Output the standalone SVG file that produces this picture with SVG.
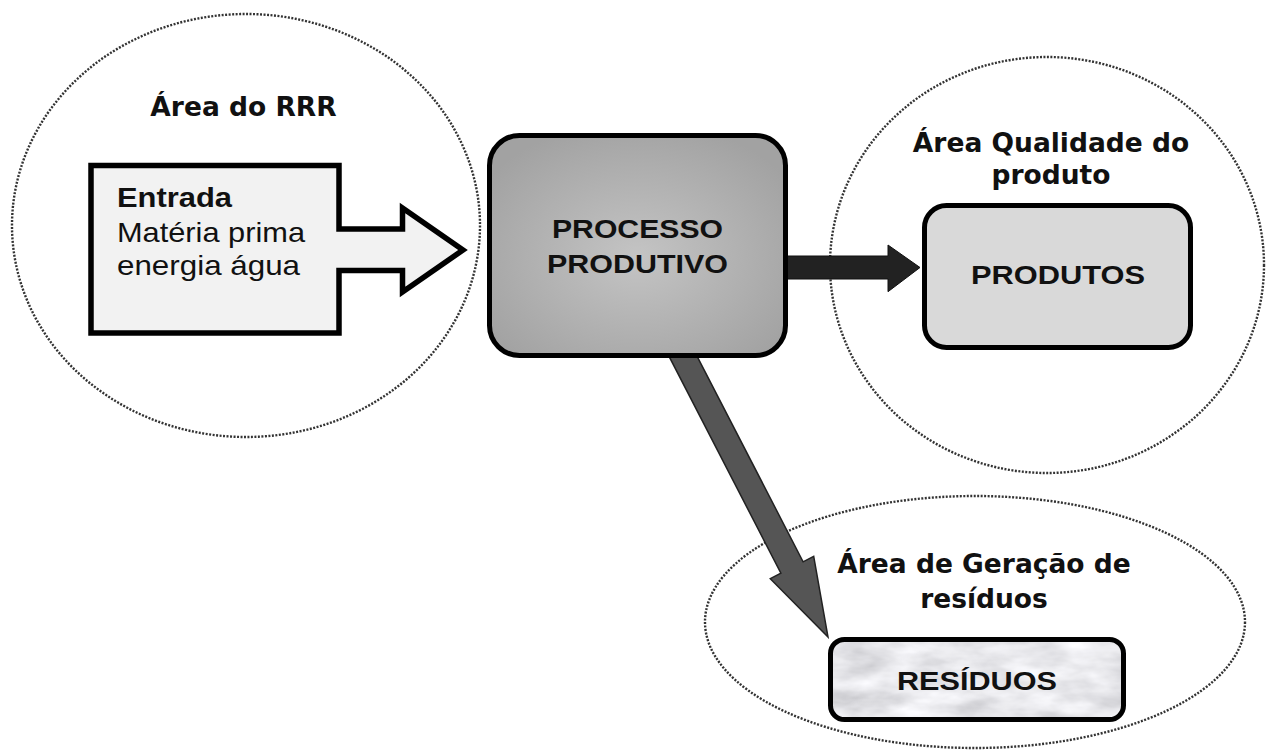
<svg xmlns="http://www.w3.org/2000/svg" width="1266" height="754" viewBox="0 0 1266 754">
<style>
.area{fill:none;stroke:#333;stroke-width:2.4;stroke-dasharray:2 1.5}
.ttl{font-family:"DejaVu Sans",sans-serif;font-weight:bold;font-size:26.5px;fill:#111;text-anchor:middle}
.lbl{font-family:"Liberation Sans",Arial,sans-serif;font-weight:bold;font-size:25.5px;fill:#111;text-anchor:middle}
.inp{font-family:"Liberation Sans",Arial,sans-serif;font-size:28px;fill:#111}
.box{stroke:#000;stroke-width:5}
</style>
<defs>
<radialGradient id="gProc" cx="50%" cy="55%" r="62%">
<stop offset="0" stop-color="#c4c4c4"/>
<stop offset="1" stop-color="#a2a2a2"/>
</radialGradient>
<filter id="marble" x="0" y="0" width="100%" height="100%">
<feTurbulence type="fractalNoise" baseFrequency="0.018 0.045" numOctaves="4" seed="7" result="n"/>
<feColorMatrix in="n" type="matrix" values="0.6 0 0 0 0.5  0.6 0 0 0 0.5  0.6 0 0 0 0.53  0 0 0 0 1" result="c"/>
<feComposite in="c" in2="SourceGraphic" operator="in"/>
</filter>
</defs>

<g id="area-rrr"><ellipse class="area" cx="246" cy="225.5" rx="234" ry="211.5"/><text class="ttl" x="243.5" y="116">Área do RRR</text></g>
<g id="area-qualidade"><ellipse class="area" cx="1047" cy="265" rx="217" ry="208"/><text class="ttl" x="1051" y="152">Área Qualidade do</text><text class="ttl" x="1051" y="184">produto</text></g>
<g id="area-residuos"><ellipse class="area" cx="975" cy="622" rx="270" ry="126"/><text class="ttl" x="984" y="573">Área de Geração de</text><text class="ttl" x="984" y="608">resíduos</text></g>

<g id="connectors">
<path d="M780,256 H888 V245 L920,267.5 L888,291.7 V279 H780 Z" fill="#222" stroke="#111" stroke-width="1"/>
<polygon points="680.6,324.3 803.1,561.8 813.7,556.3 828,637 770.3,578.7 780.9,573.2 658.4,335.7" fill="#555" stroke="#222" stroke-width="1.5" stroke-linejoin="miter"/>
</g>

<g id="entrada">
<path d="M91,165.5 H339 V229 H402.5 V208 L463,250 L402.5,292 V270.5 H339 V333 H91 Z" fill="#f2f2f2" stroke="#000" stroke-width="5.5" stroke-linejoin="miter"/>
<text class="inp" x="117" y="207" font-weight="bold" textLength="115" lengthAdjust="spacingAndGlyphs">Entrada</text>
<text class="inp" x="117" y="242" textLength="188" lengthAdjust="spacingAndGlyphs">Matéria prima</text>
<text class="inp" x="117" y="275" textLength="183" lengthAdjust="spacingAndGlyphs">energia água</text>
</g>

<g id="processo">
<rect class="box" x="489.5" y="135.5" width="296" height="220" rx="30" fill="url(#gProc)"/>
<text class="lbl" x="637.5" y="238" textLength="171" lengthAdjust="spacingAndGlyphs">PROCESSO</text>
<text class="lbl" x="637.5" y="273" textLength="181" lengthAdjust="spacingAndGlyphs">PRODUTIVO</text>
</g>

<g id="produtos">
<rect class="box" x="924.5" y="205.5" width="266" height="142" rx="22" fill="#d9d9d9"/>
<text class="lbl" x="1058" y="284" textLength="174" lengthAdjust="spacingAndGlyphs">PRODUTOS</text>
</g>

<g id="residuos">
<rect x="830.5" y="639.5" width="293" height="80" rx="14" fill="#fff" filter="url(#marble)"/>
<rect class="box" x="830.5" y="639.5" width="293" height="80" rx="14" fill="none"/>
<text class="lbl" x="977" y="690" textLength="160" lengthAdjust="spacingAndGlyphs">RESÍDUOS</text>
</g>
</svg>
